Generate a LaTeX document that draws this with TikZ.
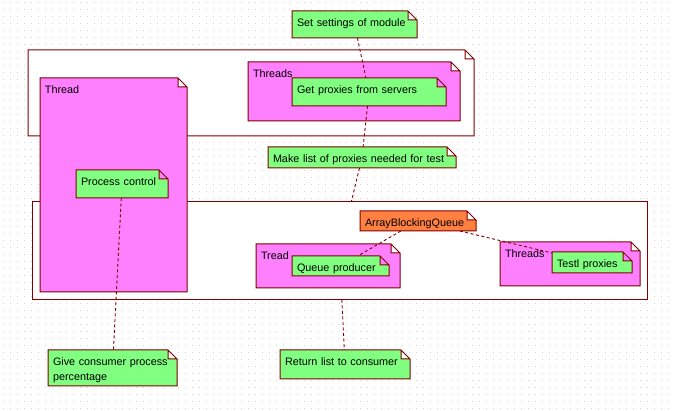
\documentclass[tikz,border=0pt]{standalone}
\usepackage{fontspec}
\setmainfont{Liberation Sans}
\usepackage{xcolor}

\definecolor{edge}{RGB}{128,0,0}
\definecolor{notegreen}{RGB}{128,255,128}
\definecolor{threadpink}{RGB}{255,128,255}
\definecolor{queueorange}{RGB}{255,128,64}
\definecolor{dotgray}{RGB}{212,212,212}

% note shape with a folded top right corner
\newdimen\notefold
\notefold=9pt
\makeatletter
\pgfdeclareshape{umlnote}{
  \inheritsavedanchors[from=rectangle]
  \inheritanchorborder[from=rectangle]
  \inheritanchor[from=rectangle]{center}
  \inheritanchor[from=rectangle]{text}
  \inheritanchor[from=rectangle]{base}
  \inheritanchor[from=rectangle]{north}
  \inheritanchor[from=rectangle]{south}
  \inheritanchor[from=rectangle]{east}
  \inheritanchor[from=rectangle]{west}
  \inheritanchor[from=rectangle]{north east}
  \inheritanchor[from=rectangle]{north west}
  \inheritanchor[from=rectangle]{south east}
  \inheritanchor[from=rectangle]{south west}
  \backgroundpath{
    \southwest \pgf@xa=\pgf@x \pgf@ya=\pgf@y
    \northeast \pgf@xb=\pgf@x \pgf@yb=\pgf@y
    \pgf@xc=\pgf@xb \advance\pgf@xc by -\notefold
    \pgf@yc=\pgf@yb \advance\pgf@yc by -\notefold
    \pgfpathmoveto{\pgfqpoint{\pgf@xa}{\pgf@ya}}
    \pgfpathlineto{\pgfqpoint{\pgf@xa}{\pgf@yb}}
    \pgfpathlineto{\pgfqpoint{\pgf@xc}{\pgf@yb}}
    \pgfpathlineto{\pgfqpoint{\pgf@xb}{\pgf@yc}}
    \pgfpathlineto{\pgfqpoint{\pgf@xb}{\pgf@ya}}
    \pgfpathclose
    \pgfpathmoveto{\pgfqpoint{\pgf@xc}{\pgf@yb}}
    \pgfpathlineto{\pgfqpoint{\pgf@xc}{\pgf@yc}}
    \pgfpathlineto{\pgfqpoint{\pgf@xb}{\pgf@yc}}
  }
}
\makeatother

\tikzset{
  wh/.code 2 args={\pgfmathsetmacro\boxtw{#1-10}\pgfmathsetmacro\boxtd{#2-20}%
    \tikzset{minimum width=#1pt,minimum height=#2pt,text width=\boxtw pt,
      text height=11pt,text depth=\boxtd pt}},
  link/.style={draw=edge,line width=0.9pt,dash pattern=on 3pt off 2.5pt},
  griddots/.style={draw=dotgray,line width=1pt,dash pattern=on 1pt off 6pt}
}

\begin{document}
\begin{tikzpicture}
    [x=1pt,y=-1pt,font=\fontsize{10.8}{15}\selectfont,
     every node/.style={umlnote,draw=edge,line width=1pt,anchor=north west,
       inner xsep=5pt,inner ysep=4.5pt,outer sep=0pt,align=left}]
\fill [white] (0,0) rectangle (673,411);
\useasboundingbox (0,0) rectangle (673,411);
\foreach \y in {3,10,...,410}
    \draw [griddots] (3,\y) -- (673,\y);
\path
    (28,50) node [fill=white,wh={446}{86}] (upper) {}
    (32,202) node [rectangle,fill=white,wh={615}{98}] (lower) {}
    (40,78) node [fill=threadpink,wh={147}{214}] (thread) {Thread}
    (76,170) node [fill=notegreen,wh={92}{28}] (control) {Process control}
    (248,62) node [fill=threadpink,wh={212}{59}] (threadsa) {Threads}
    (292,78) node [fill=notegreen,wh={154}{28}] (getprox) {Get proxies from servers}
    (292,11) node [fill=notegreen,wh={125}{27}] (settings) {Set settings of module}
    (268,147) node [fill=notegreen,wh={188}{21}] (makelist) {Make list of proxies needed for test}
    (360,211) node [fill=queueorange,wh={116}{20}] (queue) {ArrayBlockingQueue}
    (256,244) node [fill=threadpink,wh={144}{44}] (tread) {Tread}
    (292,256) node [fill=notegreen,wh={97}{20}] (producer) {Queue producer}
    (500,242) node [fill=threadpink,wh={140}{44}] (threadsb) {Threads}
    (552,252) node [fill=notegreen,wh={80}{21}] (testl) {Testl proxies}
    (48,350) node [fill=notegreen,wh={129}{36}] (percent) {Give consumer process\\percentage}
    (280,350) node [fill=notegreen,wh={130}{29}] (result) {Return list to consumer};
\draw [link] (settings) -- (getprox);
\draw [link] (getprox) -- (makelist);
\draw [link] (makelist) -- (lower);
\draw [link] (lower) -- (result);
\draw [link] (control) -- (percent);
\draw [link] (queue) -- (producer);
\draw [link] (queue) -- (testl);
\end{tikzpicture}
\end{document}
